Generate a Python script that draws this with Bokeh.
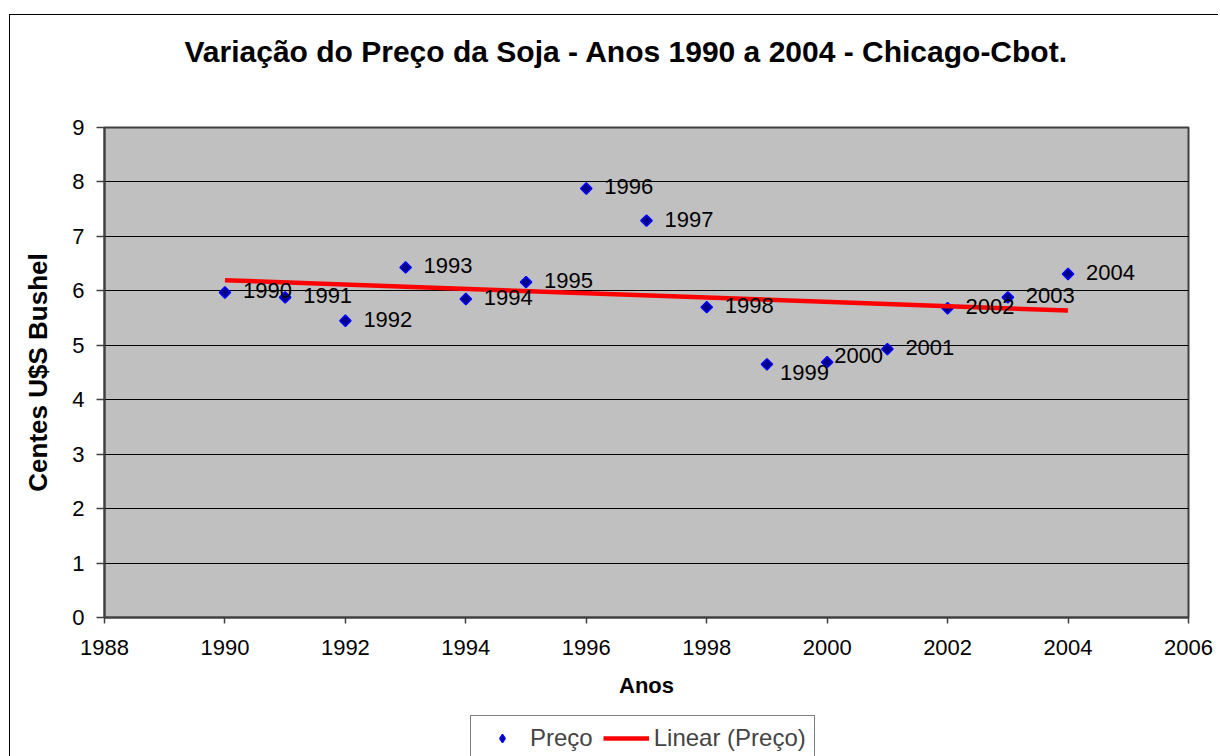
import numpy as np
from bokeh.plotting import figure
from bokeh.layouts import column
from bokeh.models import (ColumnDataSource, Legend, LegendItem, Title,
                          SingleIntervalTicker, BasicTickFormatter, Range1d)
from bokeh.core.properties import value
from bokeh.embed import file_html
from bokeh.resources import INLINE

# ---- data ----
years = [1990, 1991, 1992, 1993, 1994, 1995, 1996, 1997, 1998, 1999, 2000, 2001, 2002, 2003, 2004]
precos = [5.97, 5.88, 5.45, 6.43, 5.85, 6.16, 7.88, 7.29, 5.70, 4.65, 4.69, 4.93, 5.68, 5.88, 6.31]
labels = [str(y) for y in years]
title_text = "Variação do Preço da Soja - Anos 1990 a 2004 - Chicago-Cbot."
x_label = "Anos"
y_label = "Centes U$S Bushel"
series_name = "Preço"
trend_name = "Linear (Preço)"

# label nudges (pixels, +y = down) for data labels
label_dx = [18] * len(years)
label_dy = [-1.5] * len(years)
label_dx[years.index(1999)] = 13
label_dy[years.index(1999)] = 8
label_dx[years.index(2000)] = 7
label_dy[years.index(2000)] = -7

# linear trend (least squares of the series)
slope, intercept = np.polyfit(years, precos, 1)
trend_x = [years[0], years[-1]]
trend_y = [slope * x + intercept for x in trend_x]

FONT = "Liberation Sans"
PT_STYLE = dict(marker="square", angle=np.pi / 4, size=8,
                fill_color="#00008B", line_color="#0000FF", line_width=1.5)
LN_STYLE = dict(line_color="#FF0000", line_width=4.5)

p = figure(frame_width=1084, frame_height=490, output_backend="svg", toolbar_location=None,
           x_range=Range1d(1988, 2006), y_range=Range1d(0, 9),
           min_border_left=94, min_border_top=112, min_border_right=26, min_border_bottom=95,
           title=None)
p.background_fill_color = "#C0C0C0"
p.border_fill_color = "white"
p.outline_line_color = "#404040"
p.outline_line_width = 2

# grid
p.xgrid.grid_line_color = None
p.ygrid.grid_line_color = "black"
p.ygrid.grid_line_width = 1
p.ygrid.ticker = SingleIntervalTicker(interval=1)

# axes
p.xaxis.ticker = SingleIntervalTicker(interval=2)
p.yaxis.ticker = SingleIntervalTicker(interval=1)
p.xaxis.formatter = BasicTickFormatter(use_scientific=False)
for ax in (p.xaxis[0], p.yaxis[0]):
    ax.axis_line_color = "#404040"
    ax.axis_line_width = 2
    ax.major_tick_line_color = "#404040"
    ax.major_tick_line_width = 1.5
    ax.major_tick_in = 0
    ax.minor_tick_line_color = None
    ax.major_label_text_font = FONT
    ax.major_label_text_font_size = "22px"
    ax.major_label_text_color = "black"
    ax.axis_label_text_font = FONT
    ax.axis_label_text_font_style = "bold"
    ax.axis_label_text_color = "black"
p.xaxis.axis_label_text_font_size = "22px"
p.yaxis.axis_label_text_font_size = "26px"
p.xaxis.major_tick_out = 6
p.yaxis.major_tick_out = 8
p.xaxis.major_label_standoff = 16
p.yaxis.major_label_standoff = 12
p.xaxis.axis_label = x_label
p.yaxis.axis_label = y_label
p.xaxis.axis_label_standoff = 15
p.yaxis.axis_label_standoff = 16

# data
src = ColumnDataSource(dict(x=years, y=precos, lab=labels, dx=label_dx, dy=label_dy))
p.scatter("x", "y", source=src, **PT_STYLE)
p.line(trend_x, trend_y, **LN_STYLE)
p.text("x", "y", text="lab", source=src, x_offset="dx", y_offset="dy",
       text_font=value(FONT), text_font_size="22px", text_color="black",
       text_baseline="middle", text_align="left")

# title (an empty second line lifts it well above the plot area)
p.add_layout(Title(text=title_text + "\n ", align="left", offset=80, standoff=30,
                   vertical_align="bottom", text_line_height=1.35,
                   text_font=FONT, text_font_size="30px", text_font_style="bold",
                   text_color="black"), "above")

# legend strip below the chart (its proxy glyphs lie outside its own ranges)
lg = figure(width=1208, height=49, output_backend="svg", toolbar_location=None,
            x_range=Range1d(0, 1), y_range=Range1d(0, 1), x_axis_type=None, y_axis_type=None,
            min_border_left=94, min_border_top=0, min_border_right=26, min_border_bottom=0,
            title=None)
lg.outline_line_color = None
lg.background_fill_color = "white"
lg.border_fill_color = "white"
lg.xgrid.grid_line_color = None
lg.ygrid.grid_line_color = None
r_pts = lg.scatter(x=years, y=precos, marker="diamond", size=13,
                   fill_color="#00008B", line_color="#0000FF", line_width=1.5)
r_line = lg.line(x=trend_x, y=trend_y, **LN_STYLE)
legend = Legend(items=[LegendItem(label=series_name, renderers=[r_pts]),
                       LegendItem(label=trend_name, renderers=[r_line])],
                orientation="horizontal", location=(366, 0),
                label_text_font=FONT, label_text_font_size="24px",
                glyph_width=46, glyph_height=20, label_standoff=5, spacing=10,
                padding=8, margin=0, border_line_color="black", border_line_width=1,
                background_fill_color="white", background_fill_alpha=1)
lg.add_layout(legend, "center")

layout = column(p, lg, spacing=0)
layout.styles = {"margin-left": "9px", "margin-top": "14px", "margin-bottom": "-80px",
                 "border-left": "1px solid black", "border-top": "1px solid black"}

open("out.html", "w").write(file_html(layout, INLINE))
